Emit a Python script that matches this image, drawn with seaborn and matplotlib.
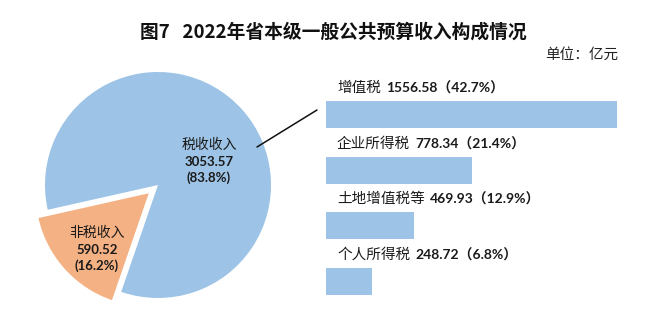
import matplotlib
matplotlib.use("Agg")
import matplotlib.pyplot as plt
import seaborn as sns
import pandas as pd
from matplotlib.lines import Line2D

# ---- data ----
pie_labels = ["税收收入", "非税收入"]
pie_values = [3053.57, 590.52]
pie_pcts = ["(83.8%)", "(16.2%)"]

bar_names = ["增值税", "企业所得税", "土地增值税等", "个人所得税"]
bar_values = [1556.58, 778.34, 469.93, 248.72]
bar_pcts = ["42.7%", "21.4%", "12.9%", "6.8%"]

title = "图7   2022年省本级一般公共预算收入构成情况"
unit = "单位：亿元"

BLUE = "#9DC3E6"
ORANGE = "#F4B183"
CJK = ["Noto Sans CJK SC", "DejaVu Sans"]
NUM = ["Lato", "Noto Sans CJK SC", "DejaVu Sans"]

sns.set_theme(style="white")
plt.rcParams["font.family"] = CJK

W, H = 671, 314
fig = plt.figure(figsize=(W / 100, H / 100), dpi=100)
fig.patch.set_facecolor("white")

def fx(px):
    return px / W

def fy(py):
    return 1 - py / H

# ---- title ----
fig.text(fx(333), fy(32), title, ha="center", va="center",
         fontsize=13.5, fontweight="bold", family=CJK, color="#111111")
fig.text(fx(618), fy(55), unit, ha="right", va="center",
         fontsize=10.5, family=CJK, color="#222222")

# ---- pie ----
cx, cy, R = 158, 185, 113
S = 2 * 1.25 * R
ax_pie = fig.add_axes([fx(cx - S / 2), (H - cy - S / 2) / H, S / W, S / H])
ax_pie.pie(pie_values, colors=[BLUE, ORANGE], startangle=251,
           counterclock=True, explode=[0, 0.11], radius=1,
           wedgeprops=dict(linewidth=0))
ax_pie.set_xlim(-1.25, 1.25)
ax_pie.set_ylim(-1.25, 1.25)
ax_pie.set_aspect("equal")
ax_pie.axis("off")

def data_xy(px, py):
    return ((px - cx) / R, (cy - py) / R)

# labels inside pie
for (px, py), name, val, pct in [((209, 162), pie_labels[0], pie_values[0], pie_pcts[0]),
                                  ((97, 250), pie_labels[1], pie_values[1], pie_pcts[1])]:
    x0, y0 = data_xy(px, py - 17)
    ax_pie.text(x0, y0, name, ha="center", va="center", fontsize=10,
                family=CJK, color="#1a1a1a")
    x1, y1 = data_xy(px, py)
    ax_pie.text(x1, y1, f"{val:.2f}", ha="center", va="center", fontsize=9.5,
                fontweight="bold", family=NUM, color="#1a1a1a")
    x2, y2 = data_xy(px, py + 16)
    ax_pie.text(x2, y2, pct, ha="center", va="center", fontsize=9.5,
                fontweight="bold", family=NUM, color="#1a1a1a")

# connector line
fig.add_artist(Line2D([fx(257), fx(317)], [fy(147), fy(110)],
                      transform=fig.transFigure, color="#111111", linewidth=1.1))

# ---- bars ----
x0_px = 326
scale = 291 / 1556.58   # px per unit
step = 55.67
top_c = 114.5
ax_w = 300
ax_top = top_c - 0.5 * step
ax_bot = top_c + 3.5 * step
ax_bar = fig.add_axes([fx(x0_px), (H - ax_bot) / H, ax_w / W, (ax_bot - ax_top) / H])
df = pd.DataFrame({"name": bar_names, "value": bar_values})
sns.barplot(data=df, x="value", y="name", orient="h", color=BLUE,
            width=0.485, saturation=1, ax=ax_bar, edgecolor="none")
ax_bar.set_xlim(0, ax_w / scale)
ax_bar.set_ylim(3.5, -0.5)
ax_bar.axis("off")

for i, (name, val, pct) in enumerate(zip(bar_names, bar_values, bar_pcts)):
    t = ax_bar.text(11 / scale, i - 0.48, name, ha="left", va="center",
                    fontsize=10.5, family=CJK, color="#1a1a1a")
    ax_bar.annotate(f"{val:.2f}（{pct}）", xy=(1, 0.5), xycoords=t,
                    xytext=(4, 0), textcoords="offset points",
                    ha="left", va="center", fontsize=10, fontweight="bold",
                    family=NUM, color="#1a1a1a")

fig.savefig("out.png", dpi=100, facecolor="white")
